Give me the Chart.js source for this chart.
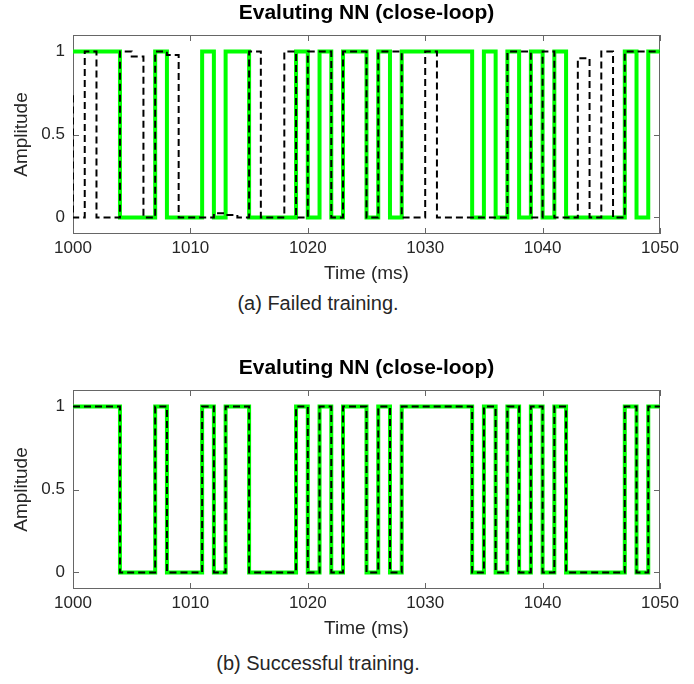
<!DOCTYPE html>
<html>
<head>
<meta charset="utf-8">
<script src="https://cdn.jsdelivr.net/npm/chart.js@4.4.0/dist/chart.umd.min.js"></script>
<style>
  body { margin: 0; background: #fff; }
  #wrap { position: relative; width: 694px; height: 684px; font-family: "Liberation Sans", Arial, sans-serif; }
  .plot { position: absolute; left: 0; width: 694px; height: 290px; }
  .caption { position: absolute; left: 0; width: 636px; text-align: center; font-size: 20px; line-height: 22px; color: #262626; }
</style>
</head>
<body>
<div id="wrap">
  <div class="plot" style="top:0"><canvas id="chartA" width="694" height="290"></canvas></div>
  <div class="caption" style="top:292px">(a) Failed training.</div>
  <div class="plot" style="top:355px"><canvas id="chartB" width="694" height="290"></canvas></div>
  <div class="caption" style="top:652px">(b) Successful training.</div>
</div>
<script>
const chartTitle = 'Evaluting NN (close-loop)';
const xTicks = [1000, 1010, 1020, 1030, 1040, 1050];
const yTicks = [0, 0.5, 1];

// one sample per ms, each value holds until the next sample
const times = Array.from({length: 51}, (_, i) => 1000 + i);

// green: reference signal (same in both plots)
const targetSignal = [
    1, 1, 1, 1, 0, 0, 0, 1, 0, 0,
    0, 1, 0, 1, 1, 0, 0, 0, 0, 1,
    0, 1, 0, 1, 1, 0, 1, 0, 1, 1,
    1, 1, 1, 1, 0, 1, 0, 1, 0, 1,
    0, 1, 0, 0, 0, 0, 0, 1, 0, 1,
    1
];

// dashed, failed training (starts one sample before the window)
const failedTimes = [999].concat(times);
const nnFailed = [
    0.73,
    0, 1, 0, 0, 1, 0.97, 0, 1, 0.98, 0,
    0, 0, 0.025, 0.015, 0, 1, 0, 0, 1, 0,
    1, 1, 0, 1, 1, 0, 1, 1, 0, 0,
    1, 0, 0, 0, 0, 0, 0, 1, 1, 0,
    1, 0, 0, 0.96, 0, 1, 0, 1, 1, 1,
    1
];

// dashed, successful training
const nnSuccess = [
    1, 1, 1, 1, 0, 0, 0, 1, 0, 0,
    0, 1, 0, 1, 1, 0, 0, 0, 0, 1,
    0, 1, 0, 1, 1, 0, 1, 0, 1, 1,
    1, 1, 1, 1, 0, 1, 0, 1, 0, 1,
    0, 1, 0, 0, 0, 0, 0, 1, 0, 1,
    1
];

const FONT = '"Liberation Sans", Arial, sans-serif';
Chart.defaults.font.family = FONT;

// box, inward ticks and title like a matlab axes
const matlabAxes = {
    id: 'matlabAxes',
    beforeDatasetsDraw(chart) {
        const { ctx, chartArea: a, scales } = chart;
        ctx.save();
        ctx.strokeStyle = '#666666';
        ctx.lineWidth = 1;
        ctx.strokeRect(a.left + 0.5, a.top + 0.5, a.width - 1, a.height - 1);
        ctx.beginPath();
        xTicks.forEach(v => {
            const x = Math.round(scales.x.getPixelForValue(v)) + 0.5;
            ctx.moveTo(x, a.bottom); ctx.lineTo(x, a.bottom - 6);
            ctx.moveTo(x, a.top); ctx.lineTo(x, a.top + 6);
        });
        yTicks.forEach(v => {
            const y = Math.round(scales.y.getPixelForValue(v)) + 0.5;
            ctx.moveTo(a.left, y); ctx.lineTo(a.left + 6, y);
            ctx.moveTo(a.right, y); ctx.lineTo(a.right - 6, y);
        });
        ctx.stroke();
        ctx.restore();
    },
    afterDraw(chart, args, opts) {
        const { ctx, chartArea: a } = chart;
        ctx.save();
        ctx.fillStyle = '#000';
        ctx.font = 'bold 21px ' + FONT;
        ctx.textAlign = 'center';
        ctx.textBaseline = 'middle';
        ctx.fillText(opts.text, (a.left + a.right) / 2, a.top - 22);
        ctx.restore();
    }
};

function makeChart(id, dashTimes, dashValues) {
    const ctx = document.getElementById(id).getContext('2d');
    return new Chart(ctx, {
        type: 'line',
        data: {
            datasets: [{
                label: 'NN',
                data: dashTimes.map((t, i) => ({x: t, y: dashValues[i]})),
                borderColor: '#000000',
                borderWidth: 2,
                borderDash: [7, 4],
                stepped: true,
                pointRadius: 0,
                order: 0
            }, {
                label: 'Target',
                data: times.map((t, i) => ({x: t, y: targetSignal[i]})),
                borderColor: '#00ff00',
                borderWidth: 4,
                borderJoinStyle: 'miter',
                stepped: true,
                pointRadius: 0,
                order: 1
            }]
        },
        options: {
            responsive: false,
            animation: false,
            layout: { padding: { top: 35, right: 34, left: 0, bottom: 0 } },
            plugins: {
                legend: { display: false },
                tooltip: { enabled: false },
                matlabAxes: { text: chartTitle }
            },
            scales: {
                x: {
                    type: 'linear',
                    min: 1000,
                    max: 1050,
                    grid: { display: false, drawTicks: false },
                    border: { display: false },
                    afterBuildTicks: s => { s.ticks = xTicks.map(v => ({value: v})); },
                    afterFit: s => { s.height = 56; },
                    ticks: { padding: 4, color: '#262626', font: { size: 17 }, maxRotation: 0, autoSkip: false,
                             callback: v => String(v) },
                    title: { display: true, text: 'Time (ms)', color: '#262626', font: { size: 19 },
                             padding: { top: 0, bottom: 5 } }
                },
                y: {
                    type: 'linear',
                    min: -0.1,
                    max: 1.1,
                    grid: { display: false, drawTicks: false },
                    border: { display: false },
                    afterBuildTicks: s => { s.ticks = yTicks.map(v => ({value: v})); },
                    afterFit: s => { s.width = 73; },
                    ticks: { padding: 8, color: '#262626', font: { size: 17 }, callback: v => String(v) },
                    title: { display: true, text: 'Amplitude', color: '#262626', font: { size: 19 },
                             padding: { top: 10, bottom: 0 } }
                }
            }
        },
        plugins: [matlabAxes]
    });
}

makeChart('chartA', failedTimes, nnFailed);
makeChart('chartB', times, nnSuccess);
</script>
</body>
</html>
